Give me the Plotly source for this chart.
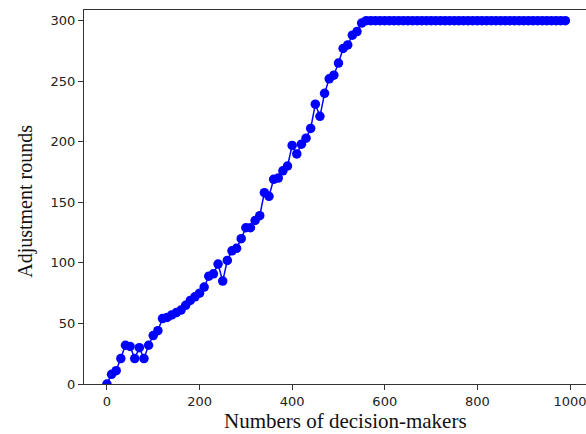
import plotly.graph_objects as go

decision_makers = list(range(0, 1000, 10))
rounds_rising = [0, 8, 11, 21, 32, 31, 21, 30, 21, 32, 40, 44, 54, 55, 57, 59, 61, 65, 69, 72,
                 75, 80, 89, 91, 99, 85, 102, 110, 112, 120, 129, 129, 135, 139, 158, 155, 169,
                 170, 176, 180, 197, 190, 198, 203, 211, 231, 221, 240, 252, 255, 265, 277, 280,
                 288, 291, 298]
rounds_capped = [300] * 44
adjustment_rounds = rounds_rising + rounds_capped

x_ticks = [0, 200, 400, 600, 800, 1000]
y_ticks = [0, 50, 100, 150, 200, 250, 300]

fig = go.Figure()
fig.add_trace(go.Scatter(
    x=decision_makers, y=adjustment_rounds, mode="lines+markers",
    line=dict(color="#0000ff", width=1.5),
    marker=dict(color="#0000ff", size=9.5, line=dict(width=0)),
    showlegend=False,
))

axis_common = dict(
    showgrid=False, zeroline=False, showline=True, linecolor="#333333", linewidth=1,
    ticks="outside", ticklen=5, tickwidth=1, tickcolor="#333333",
    tickfont=dict(family="DejaVu Sans", size=13, color="#222222"),
    ticklabeloverflow="allow",
)

fig.update_layout(
    width=586, height=434,
    margin=dict(l=84, r=0, t=10, b=50),
    paper_bgcolor="white", plot_bgcolor="white",
    xaxis=dict(range=[-49.5, 1034.5], tickvals=x_ticks, mirror=True, **axis_common),
    yaxis=dict(range=[0, 308.8], tickvals=y_ticks, mirror=False, **axis_common),
    annotations=[
        dict(text="Numbers of decision-makers", xref="paper", yref="paper",
             x=0.52, y=0, yshift=-37, xanchor="center", yanchor="middle", showarrow=False,
             font=dict(family="Liberation Serif", size=21, color="#111111")),
        dict(text="Adjustment rounds", xref="paper", yref="paper",
             x=0, xshift=-58, y=0.53, yshift=-16, xanchor="center", yanchor="middle",
             showarrow=False, textangle=-90,
             font=dict(family="Liberation Serif", size=20, color="#111111")),
    ],
)

fig.write_html("out.html")
